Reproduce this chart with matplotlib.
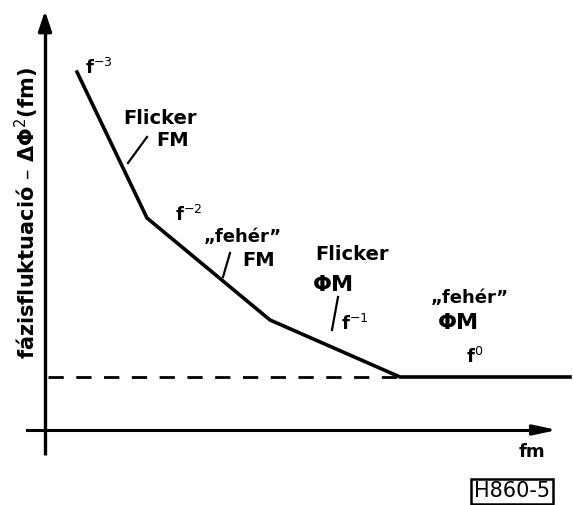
import matplotlib
matplotlib.use("Agg")
import matplotlib.pyplot as plt
from matplotlib.patches import FancyArrowPatch

# Phase-noise spectrum sketch: piecewise power-law segments (arbitrary units)
break_f = [32, 102, 225, 355, 525]
break_s = [358, 212, 110, 53, 53]
floor_level = 53
floor_end = 355

seg_slopes = ["f$^{-3}$", "f$^{-2}$", "f$^{-1}$", "f$^{0}$"]
region_kind = ["Flicker", "\u201efehér\u201d", "Flicker", "\u201efehér\u201d"]
region_mod = ["FM", "FM", "ΦM", "ΦM"]
y_title = "fázisfluktuació – ΔΦ$^2$(fm)"
x_title = "fm"
tag = "H860-5"

fig = plt.figure(figsize=(5.73, 5.05), dpi=100)
ax = fig.add_axes([0, 0, 1, 1])
ax.set_xlim(-45, 528)
ax.set_ylim(-75, 430)
ax.axis("off")

lw = 2.6
txt = dict(color="black", fontweight="bold", family="DejaVu Sans")

# axes with arrows
ax.plot([0, 0], [-25, 405], color="black", lw=2.4, solid_capstyle="butt")
ax.add_patch(FancyArrowPatch((0, 395), (0, 422), arrowstyle="-|>,head_width=4,head_length=12",
                             color="black", lw=2.4, mutation_scale=1))
ax.plot([-18, 500], [0, 0], color="black", lw=2.2)
ax.add_patch(FancyArrowPatch((490, 0), (515, 0), arrowstyle="-|>,head_width=3,head_length=14",
                             color="black", lw=2.2, mutation_scale=1))

# spectrum and floor
ax.plot(break_f, break_s, color="black", lw=lw, solid_joinstyle="miter")
ax.plot([3, floor_end], [floor_level, floor_level], color="black", lw=2.0,
        linestyle=(0, (5.5, 4.5)))

# slope labels
ax.text(40, 362, seg_slopes[0], fontsize=13, ha="left", va="center", **txt)
ax.text(130, 215, seg_slopes[1], fontsize=13, ha="left", va="center", **txt)
ax.text(296, 106, seg_slopes[2], fontsize=13, ha="left", va="center", **txt)
ax.text(421, 73, seg_slopes[3], fontsize=13, ha="left", va="center", **txt)

# region labels
ax.text(115, 312, region_kind[0], fontsize=14, ha="center", va="center", **txt)
ax.text(128, 290, region_mod[0], fontsize=14, ha="center", va="center", **txt)
ax.text(198, 193, region_kind[1], fontsize=13, ha="center", va="center", **txt)
ax.text(214, 170, region_mod[1], fontsize=14, ha="center", va="center", **txt)
ax.text(307, 175, region_kind[2], fontsize=14, ha="center", va="center", **txt)
ax.text(268, 145, region_mod[2], fontsize=16, ha="left", va="center", **txt)
ax.text(425, 132, region_kind[3], fontsize=13, ha="center", va="center", **txt)
ax.text(393, 107, region_mod[3], fontsize=16, ha="left", va="center", **txt)

# leader lines
ax.plot([83, 102], [267, 293], color="black", lw=1.6)
ax.plot([178, 185], [153, 177], color="black", lw=1.6)
ax.plot([287, 293], [100, 133], color="black", lw=1.6)

# axis titles
ax.text(-18, 217, y_title, fontsize=15, rotation=90, ha="center", va="center", **txt)
ax.text(487, -22, x_title, fontsize=13, ha="center", va="center", **txt)
ax.text(467, -61, tag, fontsize=15, ha="center", va="center",
        bbox=dict(boxstyle="square,pad=0.12", fc="white", ec="black", lw=1.8),
        color="black", family="DejaVu Sans")

fig.savefig("out.png", dpi=100, facecolor="white")
